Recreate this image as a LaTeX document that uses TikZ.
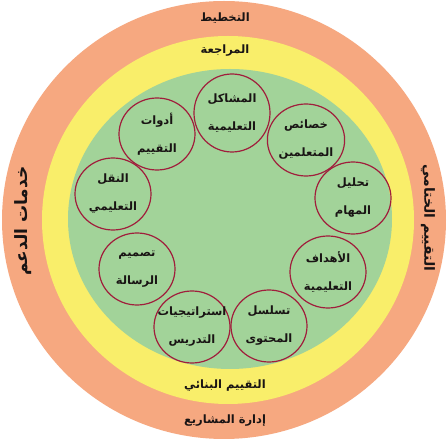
\documentclass[tikz,border=0pt]{standalone}
\usepackage{fontspec}
\usetikzlibrary{shapes.geometric}
\TeXXeTstate=1
\newfontfamily\arabicfont[Script=Arabic]{DejaVu Sans}
\definecolor{ringorange}{RGB}{246,168,128}
\definecolor{ringyellow}{RGB}{249,238,106}
\definecolor{ringgreen}{RGB}{162,211,153}
\definecolor{topicred}{RGB}{160,30,60}
\definecolor{inkc}{RGB}{25,20,20}
\tikzset{
  ringtext/.style={font=\arabicfont\bfseries\fontsize{11.5}{13}\selectfont, text=inkc, inner sep=0pt},
  sidetext/.style={font=\arabicfont\bfseries\fontsize{15}{17}\selectfont, text=inkc, inner sep=0pt},
  topic/.style={ellipse, draw=topicred, line width=1.2pt, minimum width=76pt, minimum height=72pt,
    inner sep=0pt, align=center, text=inkc,
    font=\arabicfont\bfseries\fontsize{11.5}{28}\selectfont}
}
\begin{document}
\begin{tikzpicture}[x=1pt,y=-1pt]
\useasboundingbox (0,0) rectangle (448,443);
\fill[white] (0,0) rectangle (448,443);
\begin{scope}
\clip (0,0) rectangle (448,443);
\fill[ringorange] (224,220) ellipse[x radius=222, y radius=219];
\end{scope}
\fill[ringyellow] (228,220) ellipse[x radius=186, y radius=184];
\fill[ringgreen] (230,219) ellipse[x radius=162, y radius=150];

\node[ringtext] (plan) at (225,18) {\beginR التخطيط\endR};
\node[ringtext] (review) at (225,51) {\beginR المراجعة\endR};
\node[ringtext] (formative) at (225,386) {\beginR التقييم البنائي\endR};
\node[ringtext] (projects) at (225,421) {\beginR إدارة المشاريع\endR};
\node[sidetext, font=\arabicfont\bfseries\fontsize{17}{19}\selectfont, rotate=90] (support) at (23,221) {\beginR خدمات الدعم\endR};
\node[sidetext, font=\arabicfont\bfseries\fontsize{14}{16}\selectfont, rotate=-90] (summative) at (428,218) {\beginR التقييم الختامي\endR};

\node[topic, minimum height=78pt] (t1) at (232,113) {\beginR المشاكل\endR\\\beginR التعليمية\endR};
\node[topic] (t2) at (306,140) {\beginR خصائص\endR\\\beginR المتعلمين\endR};
\node[topic] (t3) at (353,198) {\beginR تحليل\endR\\\beginR المهام\endR};
\node[topic] (t4) at (328,272) {\beginR الأهداف\endR\\\beginR التعليمية\endR};
\node[topic] (t5) at (269,326) {\beginR تسلسل\endR\\\beginR المحتوى\endR};
\node[topic, inner xsep=-9pt] (t6) at (192,327) {\beginR استراتيجيات\endR\\\beginR التدريس\endR};
\node[topic] (t7) at (137,269) {\beginR تصميم\endR\\\beginR الرسالة\endR};
\node[topic] (t8) at (113,194) {\beginR النقل\endR\\\beginR التعليمي\endR};
\node[topic] (t9) at (157,134) {\beginR أدوات\endR\\\beginR التقييم\endR};
\end{tikzpicture}
\end{document}
